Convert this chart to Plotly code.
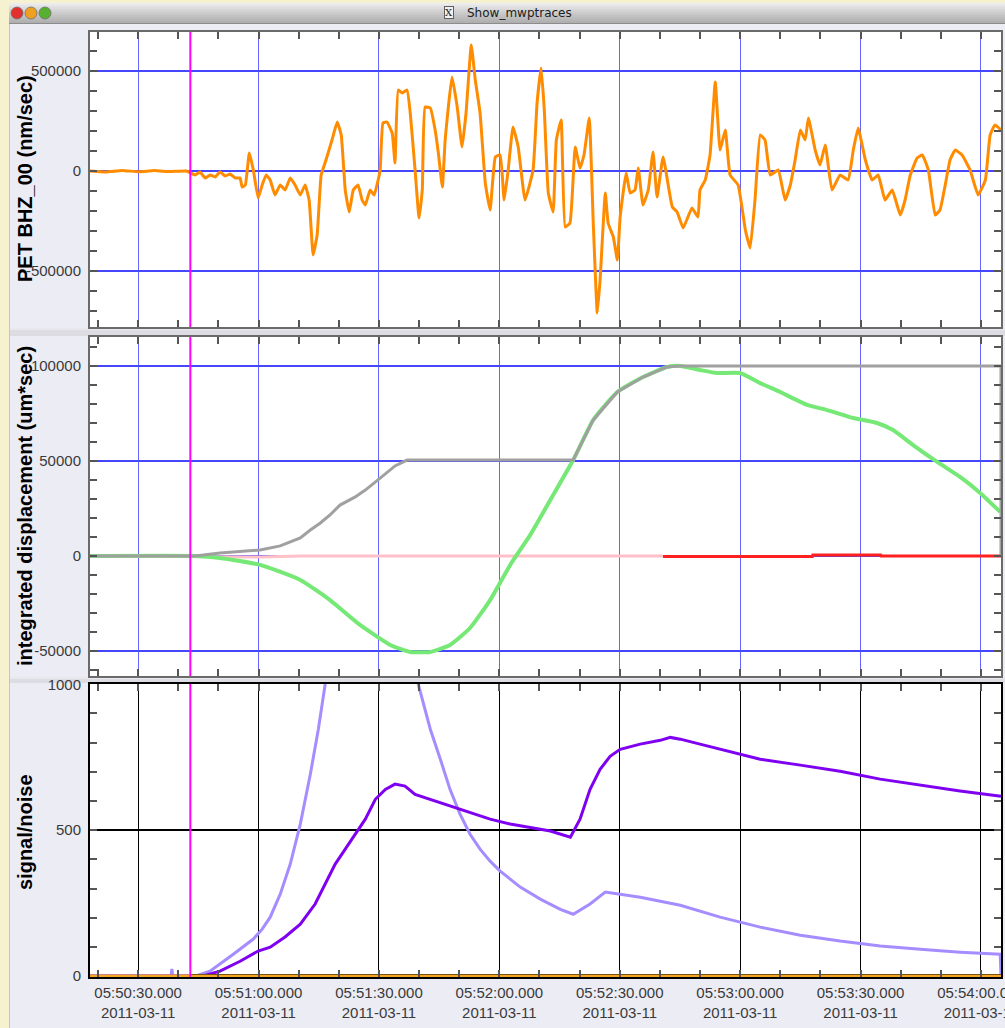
import pandas as pd
import plotly.graph_objects as go

W, H = 1005, 1028
BASE = pd.Timestamp("2011-03-11 05:50:00")

# ---------------- data (seconds after 05:50:00 UTC) ----------------
# Panel 1: PET BHZ_00 velocity (nm/sec)
vel_t = [18.0, 22.0, 26.0, 30.0, 34.0, 38.0, 42.0,
         44.2, 45.4, 46.7, 47.9, 49.2, 50.4, 51.7, 52.9, 54.2,
         55.4, 55.9, 56.7, 57.7, 58.7, 59.9, 60.9, 61.9, 62.9, 64.1,
         65.4, 66.6, 67.9, 69.1, 70.4, 71.6, 72.6, 73.6, 74.6, 75.6,
         76.8, 78.3, 79.6, 80.6, 81.6, 82.6, 83.6, 84.8, 85.8, 86.6,
         87.8, 88.8, 89.8, 90.3, 91.0, 92.0, 93.3, 94.0, 94.8, 95.8,
         97.0, 97.8, 99.0, 100.0, 100.8, 101.5, 102.8, 104.0, 104.8, 105.8,
         106.5, 108.2, 109.5, 110.7, 111.7, 113.0, 114.0, 115.2, 116.5, 117.7,
         119.0, 120.2, 121.2, 122.2, 123.4, 124.7, 126.4, 128.4, 129.4, 130.4,
         131.2, 132.2, 133.4, 134.2, 135.4, 136.4, 137.6, 138.9, 140.1, 141.1,
         142.4, 143.4, 144.4, 145.1, 146.4, 147.1, 148.4, 149.4, 150.1, 151.6,
         152.6, 153.8, 154.6, 155.8, 157.1, 158.3, 159.3, 160.8, 163.1, 164.3,
         165.8, 168.0, 169.5, 170.0, 171.3, 172.5, 173.8, 175.0, 176.3, 177.5,
         179.5, 181.3, 182.5, 183.7, 185.0, 186.2, 187.5, 189.5, 191.2, 192.5,
         193.7, 195.0, 196.2, 197.0, 198.7, 199.9, 201.2, 202.9, 204.9, 206.9,
         208.2, 209.4, 211.2, 212.9, 214.4, 216.1, 217.9, 219.9, 221.1, 222.4,
         224.1, 225.4, 226.9, 228.6, 229.8, 231.1, 232.3, 233.6, 235.3, 237.3,
         239.3, 241.1, 242.3, 243.5, 245.0]
vel_v = [0, -5000, 3000, -4000, 2000, -3000, 0,
         -20000, -5000, -35000, -20000, -30000, -5000, -25000, -15000, -35000,
         -35000, -80000, -70000, 90000, 5000, -135000, -70000, -20000, -45000, -120000,
         -70000, -95000, -35000, -70000, -120000, -70000, -145000, -420000, -320000, -20000,
         55000, 155000, 245000, 180000, -95000, -205000, -95000, -70000, -145000, -170000,
         -95000, -120000, -45000, 5000, 240000, 245000, 190000, 40000, 405000, 390000,
         405000, 290000, 5000, -235000, -95000, 320000, 315000, 205000, 90000, -80000,
         155000, 470000, 320000, 120000, 290000, 630000, 455000, 290000, -60000, -195000,
         70000, 80000, -145000, 5000, 220000, 120000, -145000, 5000, 340000, 515000,
         305000, -110000, -205000, 155000, 255000, -280000, -260000, 120000, 15000, 80000,
         265000, -260000, -710000, -545000, -110000, -260000, -330000, -445000, -230000, -10000,
         -110000, -95000, 15000, -170000, -95000, 95000, -130000, 70000, -180000, -205000,
         -285000, -185000, -230000, -95000, -45000, 80000, 445000, 105000, 205000, -20000,
         -70000, -295000, -385000, -145000, 180000, 155000, -20000, 5000, -145000, -70000,
         55000, 205000, 155000, 265000, 105000, 30000, 130000, -95000, -20000, -45000,
         105000, 215000, 55000, -45000, -20000, -145000, -95000, -220000, -145000, -20000,
         65000, 80000, 5000, -220000, -195000, -70000, 55000, 105000, 80000, 5000,
         -120000, -45000, 180000, 230000, 205000]

# Panel 2: integrated displacement (um*sec)
peak_t = [18.0, 44.2, 50.4, 60.4, 65.4, 70.4, 72.9, 75.4, 77.8, 80.3, 84.1, 86.6,
          90.3, 94.0, 97.0, 138.4, 143.4, 149.4, 155.8, 161.8, 165.1, 245.0, 245.0]
peak_v = [0, 0, 1600, 3200, 5300, 9500, 13700, 17400, 21600, 26800, 31100, 34700,
          41000, 47400, 50500, 50500, 71600, 86300, 94200, 99500, 100000, 100000, 0]

disp_t = [18.0, 44.2, 50.4, 60.4, 70.4, 77.8, 85.3, 92.8, 97.8, 102.8, 107.7, 112.7,
          117.7, 122.7, 127.7, 132.7, 138.4, 143.4, 149.4, 155.8, 161.8, 165.1, 170.0,
          174.3, 180.0, 185.0, 190.0, 196.7, 201.7, 208.2, 214.1, 218.1, 223.1, 229.1,
          234.8, 239.8, 244.8]
disp_v = [0, 0, -1000, -4700, -12600, -23200, -36300, -46800, -50500, -50500, -46800,
          -37900, -23200, -4700, 11100, 29500, 50500, 71600, 86300, 94200, 99500,
          100000, 97900, 96300, 96300, 91000, 86300, 79500, 76800, 72600, 70000, 66300,
          58400, 49500, 41600, 33200, 23200]

pink_t = [18.0, 50.4, 60.4, 70.4, 160.8]
pink_v = [0, -300, -500, 0, 0]
red_t = [160.8, 198.0, 198.1, 215.0, 215.1, 245.0]
red_v = [-200, -200, 500, 500, 0, 0]

# Panel 3: signal/noise
snr_light_t = [18.0, 38.2, 38.4, 38.6, 44.2, 47.9, 53.7, 58.7, 60.9, 62.9, 65.4, 67.9,
               70.4, 72.9, 74.9, 76.6, 78.0, 99.0, 99.8, 102.8, 105.3, 107.7, 110.2,
               112.7, 115.2, 117.7, 120.2, 125.2, 130.2, 135.2, 138.4, 142.6, 146.4,
               155.1, 165.1, 175.0, 185.0, 195.0, 204.9, 214.9, 224.9, 234.8, 244.8, 245.0]
snr_light_v = [0, 0, 25, 0, 0, 17, 75, 127, 161, 202, 281, 384, 521, 692, 846, 1000,
               1300, 1300, 1000, 846, 743, 640, 555, 486, 435, 394, 360, 305, 264, 229,
               212, 247, 288, 270, 243, 202, 168, 140, 120, 103, 92, 82, 75, 0]

snr_dark_t = [18.0, 46.0, 50.4, 55.4, 59.9, 62.9, 66.6, 70.4, 74.1, 76.6, 79.1, 81.6,
              84.1, 86.6, 89.1, 91.6, 94.0, 96.5, 99.0, 102.8, 106.5, 110.2, 114.0,
              117.7, 122.7, 127.7, 132.7, 137.7, 140.1, 142.6, 145.1, 147.6, 150.1,
              155.1, 160.1, 162.6, 165.1, 170.0, 175.0, 180.0, 185.0, 195.0, 204.9,
              214.9, 224.9, 234.8, 245.0]
snr_dark_v = [0, 0, 17, 51, 86, 99, 134, 178, 247, 315, 384, 435, 486, 538, 606, 640,
              658, 651, 623, 606, 589, 572, 555, 538, 521, 510, 497, 476, 538, 640, 709,
              753, 777, 795, 808, 818, 812, 795, 777, 760, 743, 723, 702, 675, 654, 634,
              616]

zero_t = [18.0, 245.0]
zero_v = [0, 0]
thr_t = [43.0, 245.0]
thr_v = [0, 0]

pick_time = 43.0          # P pick (magenta line)
x_range = [18.0, 245.0]

y1_ticks = [-500000, 0, 500000]
y1_text = ["-500000", "0", "500000"]
y2_ticks = [-50000, 0, 50000, 100000]
y2_text = ["-50000", "0", "50000", "100000"]
y3_ticks = [0, 500, 1000]
y3_text = ["0", "500", "1000"]


def ts(secs):
    return [BASE + pd.Timedelta(seconds=s) for s in secs]


def px(x):
    return x / W


def py(y):
    return 1 - y / H


fig = go.Figure()

fig.add_trace(go.Scatter(x=ts(vel_t), y=vel_v, mode="lines", xaxis="x", yaxis="y",
                         line=dict(color="#ff8c00", width=3, shape="spline", smoothing=0.35)))

fig.add_trace(go.Scatter(x=ts(pink_t), y=pink_v, mode="lines", xaxis="x2", yaxis="y2",
                         line=dict(color="#ffc0c8", width=3)))
fig.add_trace(go.Scatter(x=ts(red_t), y=red_v, mode="lines", xaxis="x2", yaxis="y2",
                         line=dict(color="#ff2020", width=3)))
fig.add_trace(go.Scatter(x=ts(disp_t), y=disp_v, mode="lines", xaxis="x2", yaxis="y2",
                         line=dict(color="#76e876", width=4, shape="spline", smoothing=0.5)))
fig.add_trace(go.Scatter(x=ts(peak_t), y=peak_v, mode="lines", xaxis="x2", yaxis="y2",
                         line=dict(color="#a0a0a0", width=3)))

fig.add_trace(go.Scatter(x=ts(snr_light_t), y=snr_light_v, mode="lines", xaxis="x3", yaxis="y3",
                         line=dict(color="#a58cff", width=3)))
fig.add_trace(go.Scatter(x=ts(snr_dark_t), y=snr_dark_v, mode="lines", xaxis="x3", yaxis="y3",
                         line=dict(color="#7f00f0", width=3)))
fig.add_trace(go.Scatter(x=ts(thr_t), y=thr_v, mode="lines", xaxis="x3", yaxis="y3",
                         line=dict(color="#000000", width=4)))
fig.add_trace(go.Scatter(x=ts(zero_t), y=zero_v, mode="lines", xaxis="x3", yaxis="y3",
                         line=dict(color="#f5a623", width=3)))

X_DOM = [px(90), px(1001)]
xr = [BASE + pd.Timedelta(seconds=x_range[0]), BASE + pd.Timedelta(seconds=x_range[1])]

BLUE_H = "#4646ff"
BLUE_V = "#6464ff"


def xaxis(anchor, grid, line, labels):
    d = dict(type="date", domain=X_DOM, anchor=anchor, range=xr, automargin=False,
             tickmode="linear", tick0=BASE + pd.Timedelta(seconds=30), dtick=30000,
             showgrid=True, gridcolor=grid, gridwidth=1,
             ticks="inside", ticklen=7, tickcolor="#555555", tickwidth=1.5,
             minor=dict(tickmode="linear", tick0=BASE, dtick=10000, ticks="inside",
                        ticklen=7, tickcolor="#555555", tickwidth=1.5, showgrid=False),
             showline=True, linecolor=line, linewidth=2, mirror="allticks",
             zeroline=False, showticklabels=labels)
    if labels:
        d.update(tickformat="%H:%M:%S.%L<br>%Y-%m-%d", ticklabeloverflow="allow",
                 tickfont=dict(family="Liberation Sans, Arial, sans-serif", size=15,
                               color="#3a3a3a"), ticklabelstandoff=1)
    return d


def yaxis(anchor, dom, rng, tv, tt, minor_dt, grid, line):
    return dict(domain=dom, anchor=anchor, range=rng, tickmode="array", automargin=False,
                tickvals=tv, ticktext=tt, showgrid=True, gridcolor=grid, gridwidth=2,
                ticks="inside", ticklen=7, tickcolor="#555555", tickwidth=1.5,
                minor=dict(tickmode="linear", tick0=0, dtick=minor_dt, ticks="inside",
                           ticklen=7, tickcolor="#555555", tickwidth=1.5, showgrid=False),
                showline=True, linecolor=line, linewidth=2, mirror="allticks",
                zeroline=False, ticklabelstandoff=4,
                tickfont=dict(family="Liberation Sans, Arial, sans-serif", size=15,
                              color="#3a3a3a"))


shapes = []
# window chrome
shapes.append(dict(type="rect", xref="paper", yref="paper", x0=0, x1=px(9), y0=0, y1=1,
                   fillcolor="#f6f2cf", line=dict(width=0), layer="below"))
shapes.append(dict(type="line", xref="paper", yref="paper", x0=px(9.5), x1=px(9.5), y0=0, y1=py(22),
                   line=dict(color="#c8c6b4", width=1), layer="below"))
shapes.append(dict(type="rect", xref="paper", yref="paper", x0=0, x1=1, y0=py(3), y1=1,
                   fillcolor="#f6f2cf", line=dict(width=0), layer="below"))
bar_cols = ["#ececec", "#e4e4e4", "#dddddd", "#d6d6d6", "#cfcfcf", "#c8c8c8", "#c2c2c2",
            "#bcbcbc", "#b6b6b6", "#b0b0b0"]
for i, c in enumerate(bar_cols):
    shapes.append(dict(type="rect", xref="paper", yref="paper", x0=px(9), x1=1,
                       y0=py(3 + 2 * (i + 1)), y1=py(3 + 2 * i),
                       fillcolor=c, line=dict(width=0), layer="below"))
shapes.append(dict(type="line", xref="paper", yref="paper", x0=px(9), x1=1, y0=py(23.5), y1=py(23.5),
                   line=dict(color="#8c8c8c", width=1), layer="below"))
for cx, col in [(17, "#e2302c"), (31, "#f0a020"), (45, "#58b030")]:
    shapes.append(dict(type="circle", xref="paper", yref="paper", x0=px(cx - 6), x1=px(cx + 6),
                       y0=py(19), y1=py(7), fillcolor=col,
                       line=dict(color="#707070", width=0.8), layer="below"))
for y0, y1 in [(328, 336), (677, 683)]:
    shapes.append(dict(type="rect", xref="paper", yref="paper", x0=px(10), x1=1,
                       y0=py(y1), y1=py(y0), fillcolor="#dcdce2", line=dict(width=0), layer="below"))
    shapes.append(dict(type="line", xref="paper", yref="paper", x0=px(10), x1=1,
                       y0=py(y0 + 1), y1=py(y0 + 1), line=dict(color="#f4f4f8", width=1), layer="below"))
# plot backgrounds
for dom in [(32, 327), (337, 676), (684, 977)]:
    shapes.append(dict(type="rect", xref="paper", yref="paper", x0=X_DOM[0], x1=X_DOM[1],
                       y0=py(dom[1]), y1=py(dom[0]), fillcolor="white", line=dict(width=0),
                       layer="below"))
# P pick line
for ya in ["y domain", "y2 domain", "y3 domain"]:
    xa = {"y domain": "x", "y2 domain": "x2", "y3 domain": "x3"}[ya]
    tp = BASE + pd.Timedelta(seconds=pick_time)
    shapes.append(dict(type="line", xref=xa, yref=ya, x0=tp, x1=tp, y0=0, y1=1,
                       line=dict(color="#ff00ff", width=2)))

title_font = dict(family="Liberation Sans, Arial, sans-serif", size=20, color="#000000")
annotations = [
    dict(text="<b>PET BHZ_00 (nm/sec)</b>", xref="paper", yref="paper", x=px(25),
         y=py(179), textangle=-90, showarrow=False, font=title_font,
         xanchor="center", yanchor="middle"),
    dict(text="<b>integrated displacement (um*sec)</b>", xref="paper", yref="paper", x=px(25),
         y=py(506), textangle=-90, showarrow=False, font=title_font,
         xanchor="center", yanchor="middle"),
    dict(text="<b>signal/noise</b>", xref="paper", yref="paper", x=px(25),
         y=py(832), textangle=-90, showarrow=False, font=title_font,
         xanchor="center", yanchor="middle"),
    dict(text="Show_mwptraces", xref="paper", yref="paper", x=px(465), y=py(13),
         showarrow=False, xanchor="left", yanchor="middle",
         font=dict(family="DejaVu Sans, sans-serif", size=12, color="#202020")),
    dict(text="X", xref="paper", yref="paper", x=px(449), y=py(13),
         showarrow=False, xanchor="center", yanchor="middle", borderpad=0,
         bordercolor="#606060", borderwidth=1, bgcolor="#f0f0f0",
         font=dict(family="DejaVu Serif, serif", size=10, color="#202020")),
]

fig.update_layout(
    width=W, height=H, margin=dict(l=0, r=0, t=0, b=0, autoexpand=False),
    paper_bgcolor="#ececf5", plot_bgcolor="rgba(0,0,0,0)",
    showlegend=False,
    xaxis=xaxis("y", BLUE_V, "#6a6a6a", False),
    xaxis2=xaxis("y2", BLUE_V, "#6a6a6a", False),
    xaxis3=xaxis("y3", "#000000", "#000000", True),
    yaxis=yaxis("x", [py(327), py(32)], [-780000, 695000], y1_ticks, y1_text, 100000,
                BLUE_H, "#6a6a6a"),
    yaxis2=yaxis("x2", [py(676), py(337)], [-63160, 115260], y2_ticks, y2_text, 10000,
                 BLUE_H, "#6a6a6a"),
    yaxis3=yaxis("x3", [py(977), py(684)], [-3, 1001], y3_ticks, y3_text, 100,
                 "#000000", "#000000"),
    shapes=shapes, annotations=annotations,
)
fig.update_xaxes(matches="x")

fig.write_html("out.html", config={"displayModeBar": False},
               post_script="document.body.style.margin='0px';"
                           "document.body.style.overflow='hidden';")
